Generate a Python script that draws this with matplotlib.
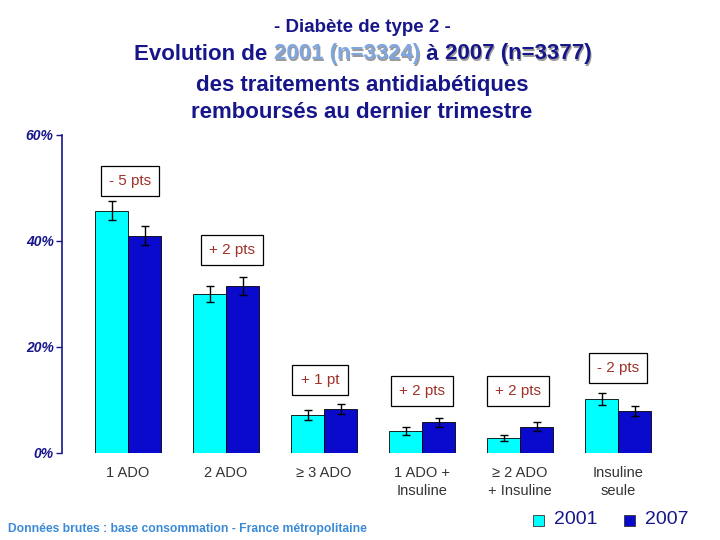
import numpy as np
import matplotlib.pyplot as plt

plt.rcParams['font.family'] = ['Liberation Sans', 'DejaVu Sans']

categories = ['1 ADO', '2 ADO', '≥ 3 ADO', '1 ADO +\nInsuline', '≥ 2 ADO\n+ Insuline', 'Insuline\nseule']
v2001 = [45.7, 30.0, 7.2, 4.1, 2.8, 10.2]
v2007 = [41.0, 31.5, 8.3, 5.8, 5.0, 7.9]
err2001 = [1.8, 1.6, 0.9, 0.75, 0.6, 1.1]
err2007 = [1.75, 1.7, 1.0, 0.8, 0.8, 1.0]
diff_labels = ['- 5 pts', '+ 2 pts', '+ 1 pt', '+ 2 pts', '+ 2 pts', '- 2 pts']
years = ['2001', '2007']

navy = '#16168a'
c2001 = '#00ffff'
c2007 = '#0a0acc'

fig = plt.figure(figsize=(7.2, 5.4), dpi=100)
ax = fig.add_axes([62 / 720, 87 / 540, 621 / 720, 318 / 540])

x = np.arange(len(categories))
w = 33 / 98
ax.bar(x - w / 2, v2001, w, color=c2001, edgecolor='black', linewidth=0.6,
       yerr=err2001, capsize=3, error_kw=dict(elinewidth=1, capthick=1))
ax.bar(x + w / 2, v2007, w, color=c2007, edgecolor='black', linewidth=0.6,
       yerr=err2007, capsize=3, error_kw=dict(elinewidth=1, capthick=1))

ax.set_xlim((62 - 128) / 98, (683 - 128) / 98)
ax.set_ylim(0, 60)
ax.set_yticks([0, 20, 40, 60])
ax.set_yticklabels(['0%', '20%', '40%', '60%'], fontsize=10, fontweight='bold',
                   fontstyle='italic', color=navy)
ax.tick_params(axis='y', colors=navy, length=4, width=1, pad=2)
ax.tick_params(axis='x', length=0)
ax.set_xticks([])
for s in ['top', 'right', 'bottom']:
    ax.spines[s].set_visible(False)
ax.spines['left'].set_color(navy)
ax.spines['left'].set_linewidth(1.2)

# category labels
for i, c in enumerate(categories):
    ax.text(i, -2.4, c, ha='center', va='top', fontsize=10.5, color='#333333',
            linespacing=1.35)

# difference boxes (pixel centres in figure)
box_pos = [(130, 181), (232, 250), (320, 380), (422, 391), (518, 391), (618, 368)]
for lab, (px, py) in zip(diff_labels, box_pos):
    fig.text(px / 720, 1 - py / 540, lab, ha='center', va='center', fontsize=11,
             color='#a0302a',
             bbox=dict(boxstyle='square,pad=0.55', fc='white', ec='black', lw=0.9))

# titles
fig.text(362 / 720, 1 - 28 / 540, '- Diabète de type 2 -', ha='center', va='center',
         fontsize=13.5, color=navy, fontweight='bold')

fs = 16
fig.canvas.draw()
r = fig.canvas.get_renderer()
parts = [('Evolution de ', navy), ('2001 (n=3324)', '#7fa6e0'), (' à ', navy), ('2007 (n=3377)', navy)]
tmp = [fig.text(0, 0, p, fontsize=fs, color=col, fontweight='bold') for p, col in parts]
widths = [t.get_window_extent(r).width for t in tmp]
for t in tmp:
    t.remove()
xs = 363 - sum(widths) / 2
for (p, col), wd in zip(parts, widths):
    if p.startswith('20'):
        fig.text((xs + 1.5) / 720, 1 - 55.5 / 540, p, fontsize=fs, color='#9a9a9a',
                 va='center', ha='left', fontweight='bold')
    fig.text(xs / 720, 1 - 54 / 540, p, fontsize=fs, color=col, va='center', ha='left',
             fontweight='bold')
    xs += wd

fig.text(362 / 720, 1 - 86 / 540, 'des traitements antidiabétiques', ha='center',
         va='center', fontsize=fs, color=navy, fontweight='bold')
fig.text(362 / 720, 1 - 112 / 540, 'remboursés au dernier trimestre', ha='center',
         va='center', fontsize=fs, color=navy, fontweight='bold')

# legend
for yr, col, px in zip(years, [c2001, c2007], [533, 624]):
    fig.patches.append(plt.Rectangle((px / 720, 1 - 526 / 540), 11 / 720, 11 / 540,
                                     transform=fig.transFigure, fc=col, ec='#333333', lw=0.6))
    fig.text((px + 21) / 720, 1 - 520 / 540, yr, fontsize=14, color=navy, va='center')

fig.text(8 / 720, 1 - 529 / 540, 'Données brutes : base consommation - France métropolitaine',
         fontsize=8.7, color='#3a8ad8', fontweight='bold', va='center')

fig.savefig('out.png', dpi=100)
